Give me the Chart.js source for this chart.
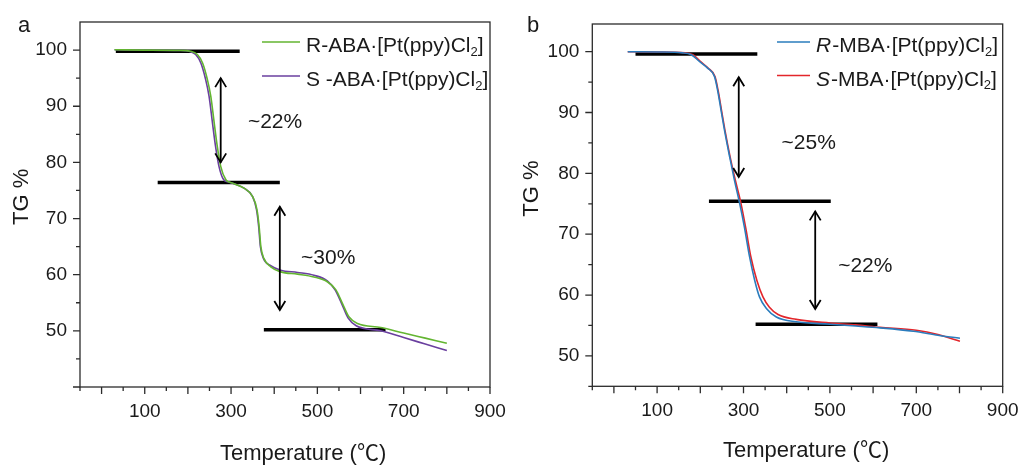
<!DOCTYPE html>
<html>
<head>
<meta charset="utf-8">
<script src="https://cdn.jsdelivr.net/npm/chart.js@4.4.1/dist/chart.umd.min.js"></script>
<style>
body{margin:0;background:#fff;}
#wrap{position:relative;width:1027px;height:468px;}
canvas{position:absolute;top:0;}
</style>
</head>
<body>
<div id="wrap">
<canvas id="chartA" width="510" height="468" style="left:0"></canvas>
<canvas id="chartB" width="517" height="468" style="left:510px"></canvas>
</div>
<script>
// ---- ticks ----
const xTicks = [-50,0,50,100,150,200,250,300,350,400,450,500,550,600,650,700,750,800,850,900];
const xLabels = [100,300,500,700,900];
const yTicksA = [40,45,50,55,60,65,70,75,80,85,90,95,100];
const yTicksB = [45,50,55,60,65,70,75,80,85,90,95,100];
const yLabels = [50,60,70,80,90,100];

// ---- panel a ----
const tempR_ABA = [30,100,180,206,222,234,245,253,261,268,276,288,296,307,330,350,360,365,369,376,392,415,454,492,523,543,558,573,593,647,700,750,800];
const tgR_ABA = [100.05,100.0,99.95,99.8,99.2,97.7,94.8,91.8,87.0,82.9,79.3,76.9,76.5,76.2,75.4,73.9,71.6,68.6,65.0,62.9,61.4,60.5,60.1,59.6,58.75,57.3,54.9,52.5,51.3,50.6,49.6,48.7,47.8];
const tempS_ABA = [30,100,180,202,218,230,241,249,257,264,272,283,294,307,330,350,359,364,368,375,392,415,454,492,523,541,556,571,590,647,700,750,800];
const tgS_ABA = [100.05,100.0,99.95,99.8,99.2,97.7,94.8,91.8,87.0,82.9,79.3,76.9,76.5,76.2,75.4,73.9,71.6,68.6,65.0,62.9,61.6,60.8,60.4,59.9,58.9,57.3,54.9,52.3,50.9,50.0,48.8,47.65,46.5];
const legendA = ['R-ABA·[Pt(ppy)Cl_2]', 'S -ABA·[Pt(ppy)Cl_2]'];
const stepsA = [[33,320,99.8],[130,413,76.4],[376,658,50.2]];   // [x from, x to, TG]
const arrowsA = [[276,95,80],[413,72.1,53.7]];                  // [x, TG top, TG bottom]
const notesA = [[402,87.1,'~22%'],[525,63.0,'~30%']];

// ---- panel b ----
const tempR_MBA = [32,100,159,179,198,217,233,240,248,256,268,279,291,302,314,326,337,353,376,422,500,560,616,693,750,801];
const tgR_MBA = [100.0,99.95,99.8,99.5,98.4,97.3,95.9,93.7,90.4,87.1,82.7,78.9,75.1,71.2,66.3,62.4,59.7,57.8,56.4,55.6,55.2,54.9,54.6,54.05,53.4,52.9];
const tempS_MBA = [32,100,165,183,200,218,234,241,249,257,269,281,294,306,317,331,345,360,380,422,500,560,616,700,750,801];
const tgS_MBA = [100.0,99.95,99.8,99.5,98.4,97.3,95.9,93.7,90.4,87.1,82.7,78.9,75.1,70.7,66.3,62.4,59.7,58.0,56.8,56.0,55.4,55.1,54.7,54.2,53.5,52.4];
const legendB = ['*R*-MBA·[Pt(ppy)Cl_2]', '*S*-MBA·[Pt(ppy)Cl_2]'];
const stepsB = [[50,332,99.6],[220,502,75.4],[328,610,55.2]];
const arrowsB = [[289,95.8,79.4],[466,73.75,57.7]];
const notesB = [[451,84.9,'~25%'],[582,64.7,'~22%']];

const FONT = "'Liberation Sans', Arial, 'Noto Sans CJK SC', sans-serif";
const INK = '#1a1a1a';

function pts(xs, ys){
    return xs.map((t, i) => ({x: t, y: ys[i]}));
}

// draws "*italic*" and "_2" (subscript) markup
function richText(ctx, str, x, y, size){
    let runs = [], buf = '', italic = false, sub = false;
    const flush = () => { if(buf){ runs.push({t: buf, italic, sub}); buf = ''; } };
    for(const ch of str){
        if(ch === '*'){ flush(); italic = !italic; continue; }
        if(ch === '_'){ flush(); sub = true; continue; }
        buf += ch;
        if(sub){ flush(); sub = false; }
    }
    flush();
    let cx = x;
    runs.forEach(r => {
        const s = r.sub ? Math.round(size * 0.62) : size;
        ctx.font = (r.italic ? 'italic ' : '') + s + 'px ' + FONT;
        ctx.fillText(r.t, cx, r.sub ? y + size * 0.17 : y);
        cx += ctx.measureText(r.t).width + (r.italic ? 1 : 0);
    });
}

function arrowHead(ctx, x, y, dir){
    ctx.beginPath();
    ctx.moveTo(x - 5.5, y - dir * 9);
    ctx.lineTo(x, y);
    ctx.lineTo(x + 5.5, y - dir * 9);
    ctx.stroke();
}

const decor = {
    id: 'decor',
    beforeDatasetsDraw(chart, args, o){
        const {ctx, scales: {x, y}} = chart;
        ctx.save();
        ctx.strokeStyle = '#000';
        ctx.lineWidth = 3.5;
        o.steps.forEach(s => {
            ctx.beginPath();
            ctx.moveTo(x.getPixelForValue(s[0]), y.getPixelForValue(s[2]));
            ctx.lineTo(x.getPixelForValue(s[1]), y.getPixelForValue(s[2]));
            ctx.stroke();
        });
        ctx.restore();
    },
    afterDatasetsDraw(chart, args, o){
        const {ctx, scales: {x, y}} = chart;
        ctx.save();
        ctx.strokeStyle = '#000';
        ctx.lineWidth = 1.8;
        o.arrows.forEach(a => {
            const px = x.getPixelForValue(a[0]);
            const p1 = y.getPixelForValue(a[1]);
            const p2 = y.getPixelForValue(a[2]);
            ctx.beginPath();
            ctx.moveTo(px, p1);
            ctx.lineTo(px, p2);
            ctx.stroke();
            arrowHead(ctx, px, p1, -1);
            arrowHead(ctx, px, p2, 1);
        });
        ctx.fillStyle = INK;
        ctx.font = '21px ' + FONT;
        ctx.textAlign = 'center';
        ctx.textBaseline = 'middle';
        o.notes.forEach(n => {
            ctx.fillText(n[2], x.getPixelForValue(n[0]), y.getPixelForValue(n[1]));
        });
        ctx.restore();
    },
    afterDraw(chart, args, o){
        const {ctx, chartArea: a, scales: {x, y}} = chart;
        ctx.save();
        // frame and tick marks
        ctx.strokeStyle = '#2b2b2b';
        ctx.lineWidth = 1.3;
        ctx.strokeRect(a.left, a.top, a.right - a.left, a.bottom - a.top);
        ctx.beginPath();
        x.ticks.forEach(t => {
            const px = x.getPixelForValue(t.value);
            const len = t.value % 100 === 0 ? 7 : 4;
            ctx.moveTo(px, a.bottom);
            ctx.lineTo(px, a.bottom + len);
        });
        y.ticks.forEach(t => {
            const py = y.getPixelForValue(t.value);
            const len = t.value % 10 === 0 ? 7 : 4;
            ctx.moveTo(a.left, py);
            ctx.lineTo(a.left - len, py);
        });
        ctx.stroke();

        // legend
        const lg = o.legend;
        chart.data.datasets.forEach((ds, i) => {
            const ly = lg.y + i * lg.dy;
            ctx.strokeStyle = ds.borderColor;
            ctx.lineWidth = 1.6;
            ctx.beginPath();
            ctx.moveTo(lg.x1, ly);
            ctx.lineTo(lg.x2, ly);
            ctx.stroke();
        });
        ctx.fillStyle = INK;
        ctx.textAlign = 'left';
        ctx.textBaseline = 'alphabetic';
        o.labels.forEach((lab, i) => {
            richText(ctx, lab, lg.tx, lg.y + i * lg.dy + 10, 21);
        });

        // titles and panel letter
        ctx.font = '22px ' + FONT;
        ctx.fillText('Temperature (℃)', o.xTitle[0], o.xTitle[1]);
        ctx.fillText(o.letter[0], o.letter[1], o.letter[2]);
        ctx.translate(o.yTitle[0], o.yTitle[1]);
        ctx.rotate(-Math.PI / 2);
        ctx.fillText('TG %', 0, 0);
        ctx.restore();
    }
};

function makeChart(id, p){
    return new Chart(document.getElementById(id), {
        type: 'line',
        data: {
            datasets: [
                {label: p.names[0], data: p.lineR, borderColor: p.colors[0], borderWidth: 1.6, order: 1},
                {label: p.names[1], data: p.lineS, borderColor: p.colors[1], borderWidth: 1.6, order: 2}
            ].map(d => Object.assign(d, {pointRadius: 0, fill: false, cubicInterpolationMode: 'monotone'}))
        },
        options: {
            responsive: false,
            animation: false,
            events: [],
            layout: {padding: {left: 0, right: p.padRight, top: p.padTop, bottom: 0}},
            scales: {
                x: {
                    type: 'linear', min: -50, max: 900,
                    grid: {display: false, drawTicks: false},
                    border: {display: false},
                    afterBuildTicks: ax => { ax.ticks = xTicks.map(v => ({value: v})); },
                    afterFit: ax => { ax.height = p.xHeight; ax.paddingLeft = 0; ax.paddingRight = 0; },
                    ticks: {
                        autoSkip: false, maxRotation: 0, padding: 13, color: INK,
                        font: {family: FONT, size: 19},
                        callback: v => xLabels.includes(v) ? String(v) : ''
                    }
                },
                y: {
                    type: 'linear', min: p.yMin, max: p.yMax,
                    grid: {display: false, drawTicks: false},
                    border: {display: false},
                    afterBuildTicks: ax => { ax.ticks = p.yTicks.map(v => ({value: v})); },
                    afterFit: ax => { ax.width = p.yWidth; ax.paddingTop = 0; ax.paddingBottom = 0; },
                    ticks: {
                        autoSkip: false, padding: 13, color: INK,
                        font: {family: FONT, size: 19},
                        callback: v => yLabels.includes(v) ? String(v) : ''
                    }
                }
            },
            plugins: {
                legend: {display: false},
                tooltip: {enabled: false},
                decor: {
                    steps: p.steps, arrows: p.arrows, notes: p.notes,
                    labels: p.labels, legend: p.legendBox,
                    xTitle: p.xTitle, yTitle: p.yTitle, letter: p.letter
                }
            }
        },
        plugins: [decor]
    });
}

makeChart('chartA', {
    names: ['R-ABA', 'S-ABA'],
    lineR: pts(tempR_ABA, tgR_ABA), lineS: pts(tempS_ABA, tgS_ABA),
    colors: ['#63b531', '#6a3f9f'],
    yMin: 40, yMax: 105, yTicks: yTicksA,
    padRight: 20, padTop: 22, xHeight: 81, yWidth: 80,
    steps: stepsA, arrows: arrowsA, notes: notesA, labels: legendA,
    legendBox: {x1: 262, x2: 300, tx: 306, y: 42, dy: 34},
    xTitle: [220, 460], yTitle: [28, 225], letter: ['a', 18, 32]
});

makeChart('chartB', {
    names: ['R-MBA', 'S-MBA'],
    lineR: pts(tempR_MBA, tgR_MBA), lineS: pts(tempS_MBA, tgS_MBA),
    colors: ['#2a7cbd', '#e3262b'],
    yMin: 45, yMax: 104.55, yTicks: yTicksB,
    padRight: 24.3, padTop: 24, xHeight: 81.7, yWidth: 82.3,
    steps: stepsB, arrows: arrowsB, notes: notesB, labels: legendB,
    legendBox: {x1: 267, x2: 300, tx: 306, y: 42, dy: 33.5},
    xTitle: [213, 456.5], yTitle: [28, 216.7], letter: ['b', 17, 32]
});
</script>
</body>
</html>
